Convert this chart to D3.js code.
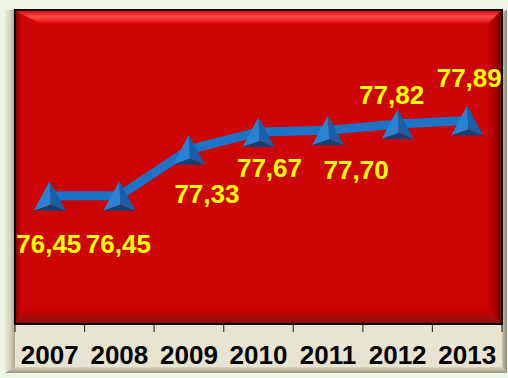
<!DOCTYPE html>
<html>
<head>
<meta charset="utf-8">
<script src="https://cdn.jsdelivr.net/npm/d3@7/dist/d3.min.js"></script>
<style>
  html, body { margin: 0; padding: 0; background: #eef5e6; }
  svg { display: block; }
</style>
</head>
<body>
<svg id="chart" width="508" height="378"></svg>
<script>
// Life expectancy by year
const years = ["2007", "2008", "2009", "2010", "2011", "2012", "2013"];
const values = [76.45, 76.45, 77.33, 77.67, 77.70, 77.82, 77.89];
const valueLabels = ["76,45", "76,45", "77,33", "77,67", "77,70", "77,82", "77,89"];
const yDomain = [74, 80];

// Hand-placed label offsets (dx, dy of the baseline from each point)
const labelShift = [[-1, 57], [-1, 57], [18, 53], [11, 45], [28, 49], [-6, -20], [2, -33]];

const svg = d3.select("#chart");
const W = 508, H = 378;
const plot = { left: 15, top: 10, right: 502, bottom: 324 };
const panel = { left: 5, top: 10, right: 507, bottom: 373 };

const defs = svg.append("defs");
function linGrad(id, x1, y1, x2, y2, stops) {
  const g = defs.append("linearGradient").attr("id", id)
    .attr("x1", x1).attr("y1", y1).attr("x2", x2).attr("y2", y2);
  stops.forEach(s => g.append("stop").attr("offset", s[0]).attr("stop-color", s[1]));
}
linGrad("bevTop", 0, 0, 0, 1, [[0, "#d80a0a"], [0.45, "#ff4a4a"], [1, "#d40808"]]);
linGrad("bevLeft", 0, 0, 1, 0, [[0, "#8a0000"], [1, "#cc0000"]]);
linGrad("bevRight", 0, 0, 1, 0, [[0, "#cc0000"], [1, "#7a0000"]]);
linGrad("bevBottom", 0, 0, 0, 1, [[0, "#cc0000"], [1, "#8a1010"]]);
linGrad("panLeft", 0, 0, 1, 0, [[0, "#ecead8"], [0.5, "#d6d2bc"], [1, "#a8a490"]]);
linGrad("panRight", 0, 0, 1, 0, [[0, "#c8c4b0"], [1, "#8e8a7a"]]);
linGrad("panBottom", 0, 0, 0, 1, [[0, "#d8d4c0"], [1, "#9a9684"]]);

// Beige frame panel with bevelled edges
svg.append("rect")
  .attr("x", panel.left).attr("y", panel.top)
  .attr("width", panel.right - panel.left).attr("height", panel.bottom - panel.top)
  .attr("fill", "#e8e4d2");
const pb = 6;
svg.append("polygon")
  .attr("points", [[panel.left, panel.top], [panel.left + 10, panel.top], [panel.left + 10, panel.bottom - pb], [panel.left, panel.bottom]].join(" "))
  .attr("fill", "url(#panLeft)");
svg.append("polygon")
  .attr("points", [[panel.right - 5, panel.top + 2], [panel.right, panel.top], [panel.right, panel.bottom], [panel.right - 5, panel.bottom - pb]].join(" "))
  .attr("fill", "url(#panRight)");
svg.append("polygon")
  .attr("points", [[panel.left + 10, panel.bottom - pb], [panel.right - 5, panel.bottom - pb], [panel.right, panel.bottom], [panel.left, panel.bottom]].join(" "))
  .attr("fill", "url(#panBottom)");

// Red plot area with bevel
const b = 13;
svg.append("rect")
  .attr("x", plot.left).attr("y", plot.top)
  .attr("width", plot.right - plot.left).attr("height", plot.bottom - plot.top)
  .attr("fill", "#cc0404");
const L = plot.left + 1, T = plot.top + 1, R = plot.right - 1, B = plot.bottom - 1;
svg.append("polygon").attr("points", [[L, T], [L + 5, T + 5], [L + 5, B - 5], [L, B]].join(" ")).attr("fill", "url(#bevLeft)");
svg.append("polygon").attr("points", [[L, T], [R, T], [R - b, T + b], [L + b + 12, T + b]].join(" ")).attr("fill", "url(#bevTop)");
svg.append("polygon").attr("points", [[R, T], [R, B], [R - b, B - b], [R - b, T + b]].join(" ")).attr("fill", "url(#bevRight)");
svg.append("polygon").attr("points", [[L + 5, B - b], [R - b, B - b], [R, B], [L, B]].join(" ")).attr("fill", "url(#bevBottom)");
svg.append("rect")
  .attr("x", plot.left).attr("y", plot.top)
  .attr("width", plot.right - plot.left).attr("height", plot.bottom - plot.top)
  .attr("fill", "none").attr("stroke", "#000").attr("stroke-width", 2);

// Scales
const x = d3.scaleBand().domain(years).range([plot.left, plot.right]);
const y = d3.scaleLinear().domain(yDomain).range([plot.bottom, plot.top]);
const cx = d => x(d) + x.bandwidth() / 2;

// Category axis: labels centred in bands, ticks on band boundaries
const axis = svg.append("g").attr("transform", `translate(0,${plot.bottom})`)
  .call(d3.axisBottom(x).tickSize(0).tickPadding(22));
axis.select(".domain").remove();
axis.selectAll("text")
  .attr("fill", "#000")
  .style("font", "bold 26px 'Liberation Sans', Arial, sans-serif");
const bounds = years.map(d => x(d)).concat([plot.right]);
svg.append("g").selectAll("line").data(bounds).join("line")
  .attr("x1", d => d).attr("x2", d => d)
  .attr("y1", plot.bottom).attr("y2", plot.bottom + 8)
  .attr("stroke", "#333").attr("stroke-width", 1.2);
svg.append("line")
  .attr("x1", plot.left).attr("x2", plot.right)
  .attr("y1", plot.bottom).attr("y2", plot.bottom)
  .attr("stroke", "#000").attr("stroke-width", 2);

// Series line
const pts = years.map((d, i) => [cx(d), y(values[i])]);
svg.append("path")
  .attr("d", d3.line()(pts))
  .attr("fill", "none").attr("stroke", "#1d74c6")
  .attr("stroke-width", 9).attr("stroke-linejoin", "round");

// Pyramid markers
const mk = svg.append("g");
pts.forEach(([px, py]) => {
  const A = [px, py - 15], BL = [px - 16, py + 15], BR = [px + 16, py + 15], P = [px + 1, py + 9];
  mk.append("polygon").attr("points", [A, BL, P].join(" ")).attr("fill", "#2a82d4");
  mk.append("polygon").attr("points", [A, P, BR].join(" ")).attr("fill", "#1a5ea8");
  mk.append("polygon").attr("points", [BL, P, BR].join(" ")).attr("fill", "#17406e");
});

// Value labels
svg.append("g").selectAll("text").data(years).join("text")
  .attr("x", (d, i) => cx(d) + labelShift[i][0])
  .attr("y", (d, i) => y(values[i]) + labelShift[i][1])
  .attr("text-anchor", "middle")
  .attr("fill", "#ffff00")
  .style("font", "bold 26px 'Liberation Sans', Arial, sans-serif")
  .text((d, i) => valueLabels[i]);
</script>
</body>
</html>
